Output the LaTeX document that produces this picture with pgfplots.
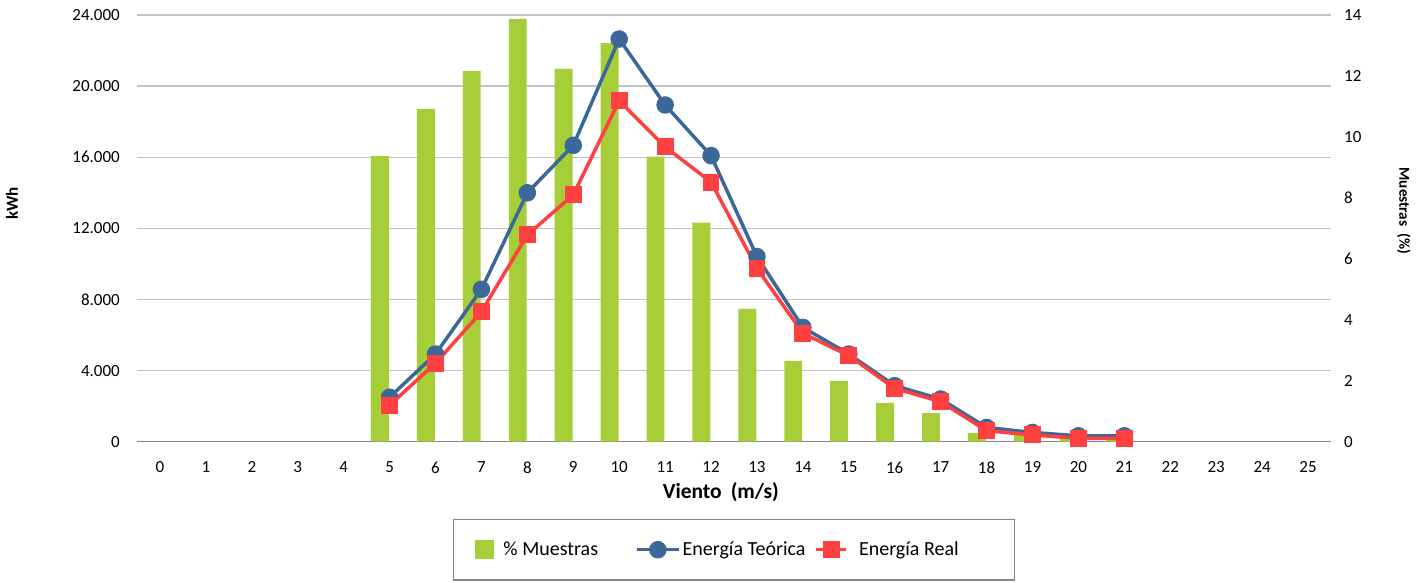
\documentclass[border=0pt]{standalone}
\usepackage{pgfplots}
\pgfplotsset{compat=1.18}
\usepackage{fontspec}
\setmainfont{Carlito}
\definecolor{barG}{RGB}{166,206,57}
\definecolor{lblue}{RGB}{60,103,153}
\definecolor{lred}{RGB}{255,64,64}
\definecolor{gridgray}{RGB}{195,195,195}
\definecolor{axgray}{RGB}{134,134,134}
\begin{document}
\begin{tikzpicture}
\path[use as bounding box] (0,0) rectangle (1425pt,582pt);
\begin{axis}[
  at={(137pt,140.3pt)}, anchor=south west, scale only axis,
  width=1194pt, height=426.7pt,
  xmin=-0.5, xmax=25.5, ymin=0, ymax=14,
  axis x line*=bottom, axis y line*=right,
  y axis line style={draw=none},
  x axis line style={draw=axgray, line width=1.5pt},
  xtick={0,...,25}, ytick={0,2,...,14},
  major tick length=0pt,
  extra y ticks={2.33333,4.66667,7,9.33333,11.66667,14},
  extra y tick labels={},
  extra y tick style={grid=major, major tick length=0pt},
  grid style={draw=gridgray, line width=1.3pt},
  /pgf/number format/assume math mode=true,
  tick label style={font=\fontsize{17}{20}\selectfont, inner sep=0pt},
  xticklabel style={anchor=north, yshift=-20pt},
  yticklabel style={anchor=west, xshift=13pt},
  ylabel={Muestras\hspace{7pt}(\%)},
  ylabel style={font=\bfseries\fontsize{15.2}{18}\selectfont, at={(axis description cs:1.0611,0.541)}, anchor=center, rotate=180},
  xlabel={Viento\hspace{9pt}(m/s)},
  xlabel style={font=\bfseries\fontsize{21.5}{25}\selectfont, at={(axis description cs:0.489,-0.119)}, anchor=center},
]
\addplot[ybar, fill=barG, draw=none, bar width=0.39, bar shift=-0.21] coordinates {
(5,9.37) (6,10.91) (7,12.16) (8,13.87) (9,12.23) (10,13.08) (11,9.35) (12,7.19)
(13,4.36) (14,2.65) (15,1.99) (16,1.27) (17,0.94) (18,0.29) (19,0.25) (20,0.12) (21,0.05)};
\end{axis}
\begin{axis}[
  at={(137pt,140.3pt)}, anchor=south west, scale only axis,
  width=1194pt, height=426.7pt,
  xmin=-0.5, xmax=25.5, ymin=0, ymax=24000,
  axis x line=none, xtick=\empty,
  axis y line*=left, y axis line style={draw=none},
  ytick={0,4000,...,24000},
  yticklabels={0,4.000,8.000,12.000,16.000,20.000,24.000},
  scaled y ticks=false,
  major tick length=0pt,
  /pgf/number format/assume math mode=true,
  tick label style={font=\fontsize{17}{20}\selectfont, inner sep=0pt},
  yticklabel style={anchor=east, xshift=-17pt},
  ylabel={kWh},
  ylabel style={font=\bfseries\fontsize{17}{20}\selectfont, at={(axis description cs:-0.1047,0.558)}, anchor=center},
  legend columns=3,
  legend style={at={(axis description cs:0.5,-0.181)}, anchor=north,
    draw=axgray, line width=1.2pt, font=\fontsize{20}{24}\selectfont,
    inner xsep=22pt, inner ysep=20.5pt,
    /tikz/every even column/.append style={column sep=0pt}},
]
\addlegendimage{legend image code/.code={\fill[barG] (0pt,-9pt) rectangle (18pt,9pt);}}
\addlegendentry{\hspace{7pt}\% Muestras\kern35pt\null}
\addplot[color=lblue, line width=3.5pt, mark=*, mark size=7pt,
  legend image code/.code={\draw[mark repeat=2, mark phase=2] plot coordinates {(0pt,0pt) (21pt,0pt) (42pt,0pt)};}]
coordinates {
(5,2500) (6,4930) (7,8570) (8,14000) (9,16670) (10,22650) (11,18940) (12,16090)
(13,10410) (14,6430) (15,4930) (16,3150) (17,2400) (18,800) (19,520) (20,330) (21,330)};
\addlegendentry{Energía Teórica\kern7pt\null}
\addplot[color=lred, line width=3.5pt, mark=square*, mark size=6.7pt,
  legend image code/.code={\draw[mark repeat=2, mark phase=2] plot coordinates {(0pt,0pt) (15pt,0pt) (30pt,0pt)};}]
coordinates {
(5,2060) (6,4410) (7,7310) (8,11630) (9,13890) (10,19180) (11,16590) (12,14600)
(13,9750) (14,6100) (15,4840) (16,3000) (17,2250) (18,620) (19,380) (20,190) (21,190)};
\addlegendentry{\hspace{9pt}Energía Real\kern32pt\null}
\end{axis}
\end{tikzpicture}
\end{document}
